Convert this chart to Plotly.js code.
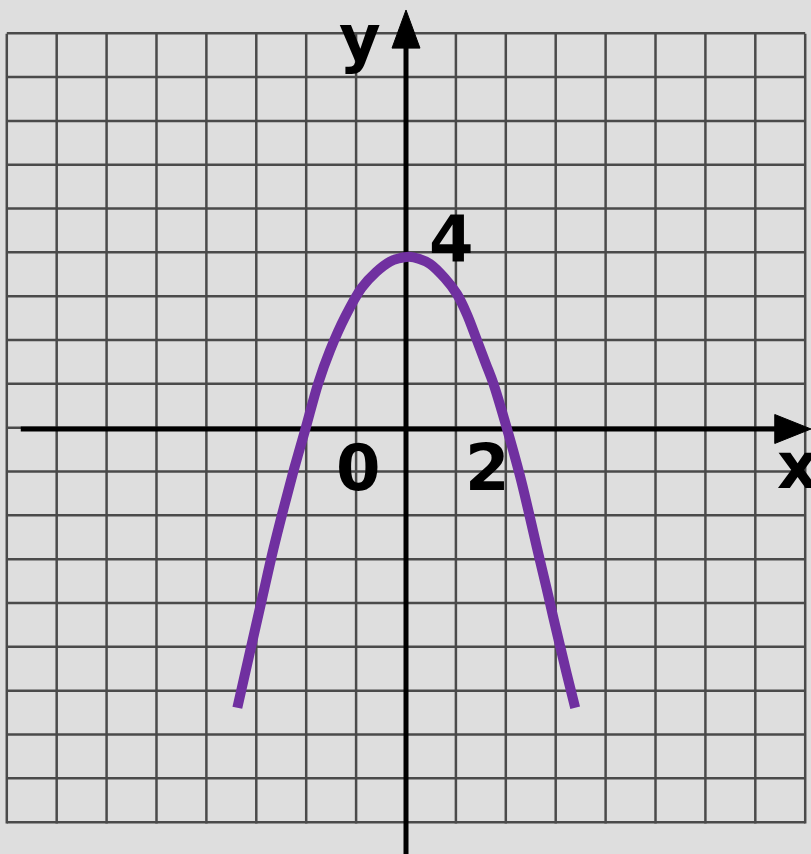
<!DOCTYPE html>
<html>
<head>
<meta charset="utf-8">
<script src="https://cdn.plot.ly/plotly-3.0.1.min.js"></script>
<style>html,body{margin:0;padding:0;background:#dedede;}#chart{width:811px;height:854px;}</style>
</head>
<body>
<div id="chart"></div>
<script>
// ---- data ----
const curveX = [-3.38, -3.12, -2.88, -2.66, -2.45, -2.24, -2.02, -1.76, -1.52, -1.22, -0.89, -0.60, -0.32, -0.15, 0.06, 0.27, 0.48, 0.78, 1.02, 1.22, 1.42, 1.60, 1.75, 2.03, 2.28, 2.45, 2.62, 2.80, 2.95, 3.22, 3.39];
const curveY = [-6.36, -5.05, -3.85, -2.75, -1.80, -0.90, -0.02, 1.04, 1.80, 2.56, 3.22, 3.58, 3.82, 3.89, 3.93, 3.88, 3.77, 3.44, 3.08, 2.62, 2.03, 1.49, 1.04, -0.02, -1.05, -1.85, -2.69, -3.55, -4.29, -5.58, -6.36];
const gridX = [-8,-7,-6,-5,-4,-3,-2,-1,0,1,2,3,4,5,6,7,8];
const gridY = [-9,-8,-7,-6,-5,-4,-3,-2,-1,0,1,2,3,4,5,6,7,8,9];
const tickLabels = ["0", "2", "4"];
const axisLabels = ["x", "y"];

// ---- layout ----
const xr = [-8.136, 8.116];
const yr = [-9.697, 9.788];
const shapes = [];
gridX.forEach(g => shapes.push({type:'line', xref:'x', yref:'y', x0:g, x1:g, y0:-9, y1:9.02, line:{color:'#4a4a4a', width:2.5}, layer:'below'}));
gridY.forEach(g => shapes.push({type:'line', xref:'x', yref:'y', x0:-8, x1:8, y0:g + 0.03, y1:g + 0.03, line:{color:'#4a4a4a', width:2.5}, layer:'below'}));
// axes
shapes.push({type:'line', xref:'x', yref:'y', x0:-7.72, x1:7.5, y0:0, y1:0, line:{color:'#000', width:5}, layer:'below'});
shapes.push({type:'line', xref:'x', yref:'y', x0:0, x1:0, y0:yr[0], y1:8.8, line:{color:'#000', width:5}, layer:'below'});
// arrow heads
shapes.push({type:'path', xref:'x', yref:'y', path:'M 7.39 0.33 L 8.116 0 L 7.39 -0.33 Z', fillcolor:'#000', line:{color:'#000', width:1}, layer:'below'});
shapes.push({type:'path', xref:'x', yref:'y', path:'M -0.28 8.69 L 0 9.56 L 0.28 8.69 Z', fillcolor:'#000', line:{color:'#000', width:1}, layer:'below'});

const font = {family:'DejaVu Sans', size:64, color:'#000', weight:'bold'};
const annotations = [
  {x:-0.96, y:-0.89, text:'<b>'+tickLabels[0]+'</b>'},
  {x:1.63, y:-0.89, text:'<b>'+tickLabels[1]+'</b>'},
  {x:0.91, y:4.31, text:'<b>'+tickLabels[2]+'</b>'},
  {x:7.84, y:-0.84, text:'<b>'+axisLabels[0]+'</b>'},
  {x:-0.92, y:8.93, text:'<b>'+axisLabels[1]+'</b>'}
].map(a => Object.assign({xref:'x', yref:'y', showarrow:false, xanchor:'center', yanchor:'middle', font:font}, a));

const trace = {x:curveX, y:curveY, type:'scatter', mode:'lines', line:{color:'#7030a0', width:10, shape:'spline', smoothing:1}, hoverinfo:'skip'};

Plotly.newPlot('chart', [trace], {
  width:811, height:854,
  margin:{l:0, r:0, t:0, b:0, pad:0},
  paper_bgcolor:'#dedede', plot_bgcolor:'#dedede',
  showlegend:false,
  xaxis:{range:xr, showgrid:false, zeroline:false, showticklabels:false, showline:false, ticks:''},
  yaxis:{range:yr, showgrid:false, zeroline:false, showticklabels:false, showline:false, ticks:''},
  shapes:shapes,
  annotations:annotations
}, {staticPlot:true, displayModeBar:false});
</script>
</body>
</html>
